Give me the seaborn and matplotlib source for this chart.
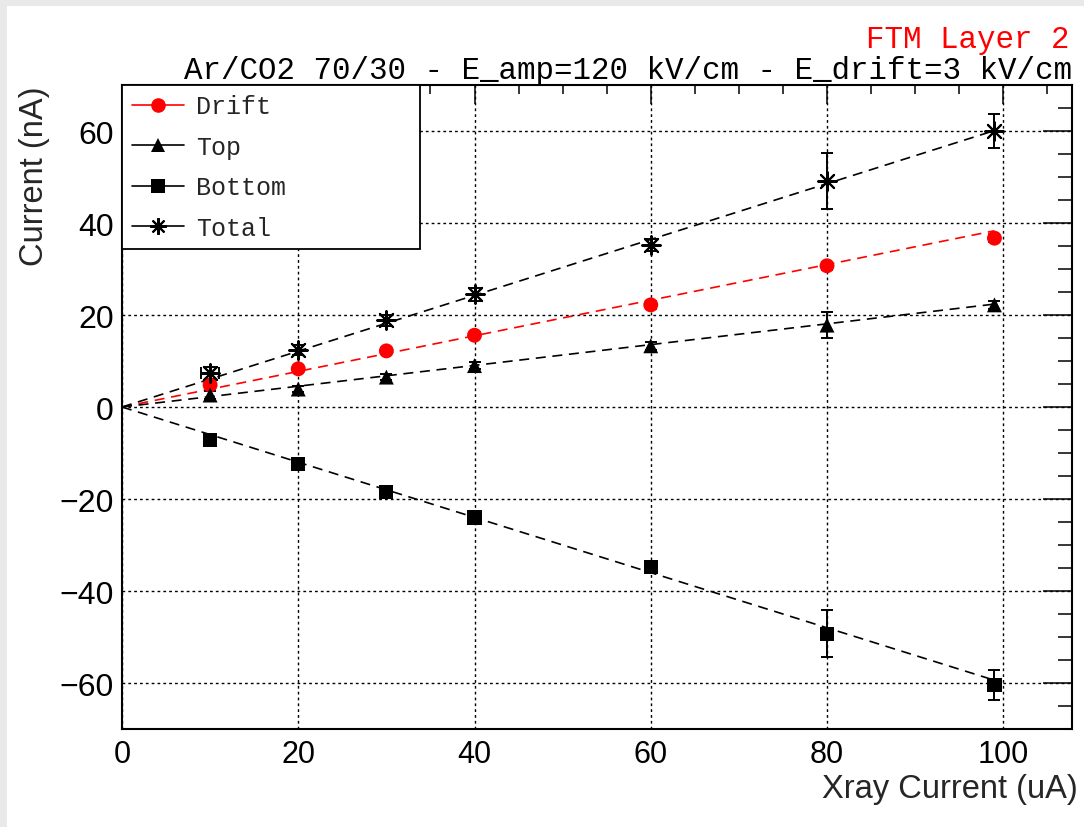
import numpy as np
import pandas as pd
import matplotlib
matplotlib.use("Agg")
import matplotlib.pyplot as plt
from matplotlib.lines import Line2D
from matplotlib.patches import Rectangle
from matplotlib.ticker import MultipleLocator
from matplotlib.font_manager import FontProperties
import seaborn as sns

# ---------------- data ----------------
xray = [10, 20, 30, 40, 60, 80, 99]
drift = [4.8, 8.3, 12.2, 15.6, 22.2, 30.7, 36.7]
top = [2.6, 3.9, 6.5, 9.0, 13.3, 17.8, 22.2]
bottom = [-7.2, -12.4, -18.4, -24.0, -34.8, -49.3, -60.4]
total = [7.4, 12.4, 18.9, 24.5, 35.2, 49.1, 60.0]

drift_err = [0.6, 0.5, 0.6, 0.6, 0.8, 0.9, 0.9]
top_err = [0.8, 0.6, 0.6, 0.7, 0.9, 2.8, 0.9]
bottom_err = [0.8, 0.8, 0.8, 0.9, 1.0, 5.1, 3.3]
total_err = [1.3, 1.0, 1.2, 1.4, 1.3, 6.1, 3.8]
xray_err = [1.0, 0.0, 0.0, 0.0, 0.0, 0.0, 0.0]

# linear fits through the origin (fitted slopes, nA per uA)
fit_range = [0, 99]
drift_slope = 0.387
top_slope = 0.226
bottom_slope = -0.600
total_slope = 0.607

labels = ["Drift", "Top", "Bottom", "Total"]
title_text = "Ar/CO2 70/30 - E_amp=120 kV/cm - E_drift=3 kV/cm"
layer_text = "FTM Layer 2"
xlabel = "Xray Current (uA)"
ylabel = "Current (nA)"

# ---------------- style ----------------
sns.set_style("white")
plt.rcParams["font.family"] = ["Liberation Sans", "DejaVu Sans"]

W, H = 1084, 828
fig = plt.figure(figsize=(W / 100, H / 100), dpi=100)
fig.patch.set_facecolor("#e9e9e9")
fig.patches.append(Rectangle((7 / W, 0), 1, 1 - 7 / H, transform=fig.transFigure,
                             facecolor="white", edgecolor="none", zorder=-10))

ax = fig.add_axes([122 / W, 1 - 730 / H, (1072 - 122) / W, (730 - 86) / H])
ax.set_facecolor("white")

series = [
    (labels[0], drift, drift_err, drift_slope, "red", "o", 115),
    (labels[1], top, top_err, top_slope, "black", "^", 115),
    (labels[2], bottom, bottom_err, bottom_slope, "black", "s", 105),
    (labels[3], total, total_err, total_slope, "black", (8, 2, 0), 180),
]

for name, vals, err, slope, col, mk, sz in series:
    fx = fit_range
    fy = [slope * v for v in fit_range]
    sns.lineplot(x=fx, y=fy, color=col, linestyle=(0, (6, 4)), linewidth=1.2,
                 ax=ax, zorder=2, sort=False, estimator=None)
    xe = xray_err if name == "Total" else None
    ax.errorbar(xray, vals, yerr=err, xerr=xe, fmt="none", ecolor=col,
                elinewidth=1.4, capsize=4, capthick=1.4, zorder=3)
    if isinstance(mk, tuple):
        sns.scatterplot(x=xray, y=vals, marker=mk, color=col, s=sz,
                        linewidth=1.5, ax=ax, zorder=4, legend=False)
    else:
        sns.scatterplot(x=xray, y=vals, marker=mk, color=col, s=sz,
                        edgecolor="none", ax=ax, zorder=4, legend=False)

ax.set_xlim(0, 107.8)
ax.set_ylim(-70, 70)
ax.xaxis.set_major_locator(MultipleLocator(20))
ax.xaxis.set_minor_locator(MultipleLocator(5))
ax.yaxis.set_major_locator(MultipleLocator(20))
ax.yaxis.set_minor_locator(MultipleLocator(5))
ax.set_xlabel("")
ax.set_ylabel("")

ax.tick_params(axis="both", which="both", direction="in", top=True, right=True,
               colors="black", width=1.1)
ax.tick_params(axis="x", which="major", length=13.5, pad=7, labelsize=22)
ax.tick_params(axis="x", which="minor", length=6.5)
ax.tick_params(axis="y", which="major", length=21, pad=6, labelsize=23)
ax.tick_params(axis="y", which="minor", length=10)

for sp in ax.spines.values():
    sp.set_visible(True)
    sp.set_color("black")
    sp.set_linewidth(1.5)

ax.grid(True, which="major", color="black", linestyle=(0, (2.0, 2.2)), linewidth=1.0)
ax.set_axisbelow(True)

# legend
mono = FontProperties(family="Liberation Mono", size=18)
handles = []
for name, vals, err, slope, col, mk, sz in series:
    if isinstance(mk, tuple):
        handles.append(Line2D([0], [0], color=col, lw=1.2, marker=mk, markersize=12,
                              markeredgewidth=1.5, markeredgecolor=col))
    else:
        handles.append(Line2D([0], [0], color=col, lw=1.2, marker=mk, markersize=10.5,
                              markeredgewidth=0, markerfacecolor=col))
leg = ax.legend(handles, labels, loc="upper left", bbox_to_anchor=(0, 0.5, 0.3137, 0.5),
                mode="expand", borderaxespad=0, prop=mono, handlelength=2.1,
                handletextpad=0.5, borderpad=0.38, labelspacing=0.655,
                fancybox=False, framealpha=1, edgecolor="black", numpoints=1)
leg.get_frame().set_linewidth(1.3)
leg.set_zorder(10)

# texts
fig.text(1069 / W, 1 - 48 / H, layer_text, color="red", ha="right", va="baseline",
         fontproperties=FontProperties(family="Liberation Mono", size=22.2))
fig.text(1072 / W, 1 - 79 / H, title_text, color="black", ha="right", va="baseline",
         fontproperties=FontProperties(family="Liberation Mono", size=22.2))
fig.text(1078 / W, 1 - 798 / H, xlabel, ha="right", va="baseline", fontsize=23.5)
fig.text(35 / W, 1 - 87 / H, ylabel, ha="center", va="top", rotation=90, fontsize=23.5)

fig.savefig("out.png", dpi=100, facecolor=fig.get_facecolor())
